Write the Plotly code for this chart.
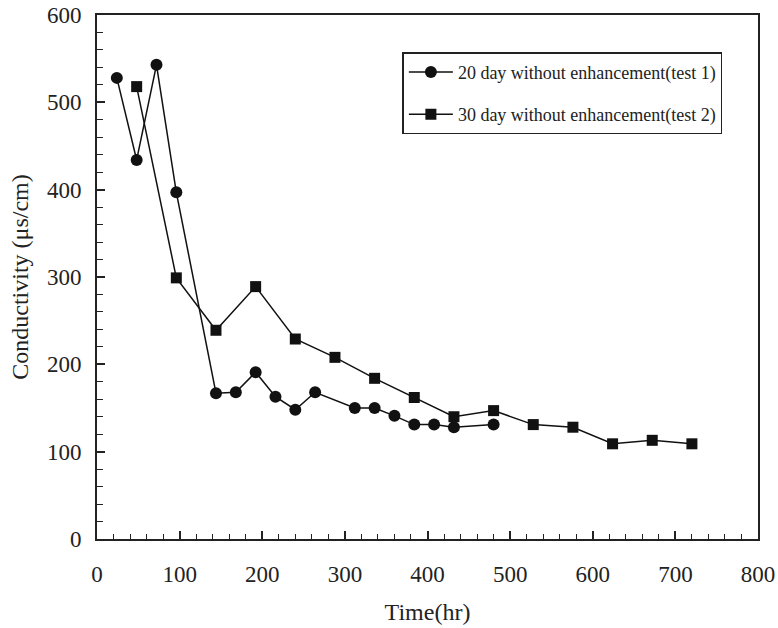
import plotly.graph_objects as go

# Test 1: 20 day without enhancement
t1_time = [24, 48, 72, 96, 144, 168, 192, 216, 240, 264, 312, 336, 360, 384, 408, 432, 480]
t1_cond = [528, 434, 543, 397, 167, 168, 191, 163, 148, 168, 150, 150, 141, 131, 131, 128, 131]

# Test 2: 30 day without enhancement
t2_time = [48, 96, 144, 192, 240, 288, 336, 384, 432, 480, 528, 576, 624, 672, 720]
t2_cond = [518, 299, 239, 289, 229, 208, 184, 162, 140, 147, 131, 128, 109, 113, 109]

name1 = "20 day without enhancement(test 1)"
name2 = "30 day without enhancement(test 2)"

FONT = "Liberation Serif, Times New Roman, serif"
INK = "#222222"

fig = go.Figure()
fig.add_trace(go.Scatter(
    x=t1_time, y=t1_cond, name=name1, mode="lines+markers", legendgroup="a",
    line=dict(color="#111111", width=1.5),
    marker=dict(symbol="circle", size=12, color="#111111"),
))
fig.add_trace(go.Scatter(
    x=t2_time, y=t2_cond, name=name2, mode="lines+markers", legendgroup="b",
    line=dict(color="#111111", width=1.5),
    marker=dict(symbol="square", size=11, color="#111111"),
))

axis_common = dict(
    showgrid=False, zeroline=False, showline=True, linecolor=INK, linewidth=2,
    mirror=True, ticks="inside", ticklen=8, tickwidth=1.5, tickcolor=INK,
    tickfont=dict(family=FONT, size=23, color=INK), automargin=False,
)

fig.update_xaxes(
    range=[0, 800], dtick=100, tick0=0, ticklabelstandoff=13,
    minor=dict(dtick=20, ticks="inside", ticklen=5, tickwidth=1.2, tickcolor=INK),
    title=dict(text="Time(hr)", font=dict(family=FONT, size=24, color=INK), standoff=18),
    **axis_common,
)
fig.update_yaxes(
    range=[0, 600], dtick=100, tick0=0, ticklabelstandoff=9,
    minor=dict(dtick=20, ticks="inside", ticklen=6, tickwidth=1.2, tickcolor=INK),
    title=dict(text="Conductivity (μs/cm)", font=dict(family=FONT, size=24, color=INK), standoff=12),
    **axis_common,
)

fig.update_layout(
    width=778, height=628,
    margin=dict(l=97, r=20, t=15, b=89),
    paper_bgcolor="white", plot_bgcolor="white",
    showlegend=True,
    legend=dict(
        x=0.462, y=0.929, xanchor="left", yanchor="top",
        bordercolor=INK, borderwidth=1.5, bgcolor="white",
        font=dict(family=FONT, size=18, color=INK),
        traceorder="grouped", tracegroupgap=16, itemwidth=44,
    ),
)

fig.write_html("out.html")
